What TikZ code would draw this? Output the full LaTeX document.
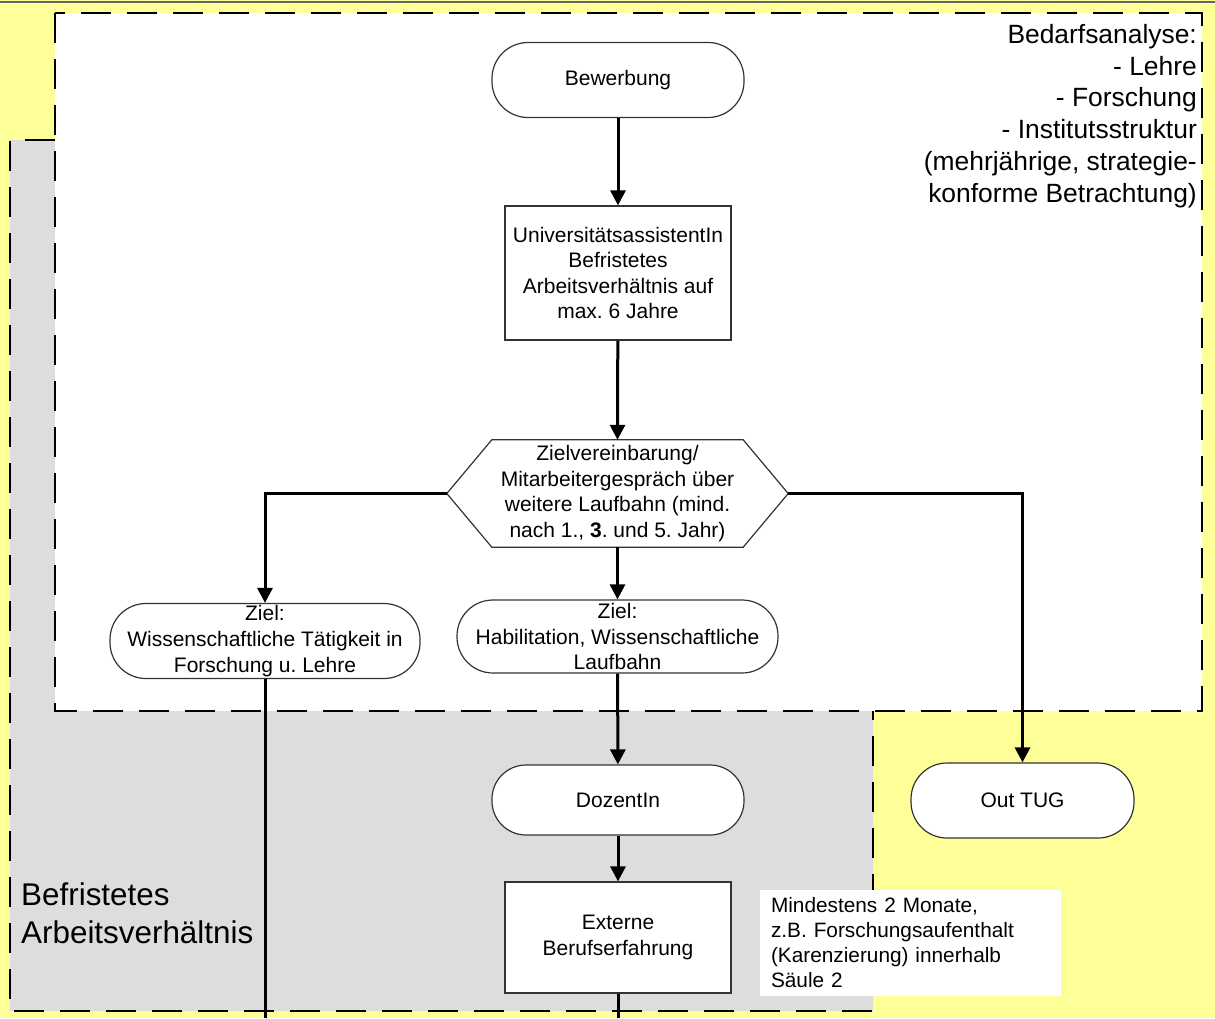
\documentclass[tikz,border=0pt]{standalone}
\usepackage{fontspec}
\setmainfont{Liberation Sans}
\usetikzlibrary{arrows.meta}
\definecolor{bgyellow}{HTML}{FFFF99}
\definecolor{zonegray}{HTML}{DDDDDD}
\definecolor{edge}{HTML}{333333}
\frenchspacing
\begin{document}
\frenchspacing
\begin{tikzpicture}[x=1pt,y=-1pt,
  zone/.style={line width=2.6pt, dash pattern=on 30pt off 16pt},
  basefont/.style={font=\fontsize{21}{25.6}\selectfont},
  stadium/.style={basefont, draw=edge, line width=1.2pt, fill=white, rounded corners=36pt, align=center, inner sep=0pt, minimum height=#1},
  stadium/.default=75pt,
  boxnode/.style={basefont, draw=edge, line width=1.2pt, fill=white, align=center, inner sep=0pt},
  conn/.style={line width=3pt, -{Triangle[width=15pt,length=15pt]}},
  plain/.style={line width=3pt}
]
\useasboundingbox (0,0) rectangle (1215,1018);
% background
\fill[bgyellow] (0,0) rectangle (1215,1018);
\draw[black!60, line width=2pt] (0,1.5) -- (1215,1.5);
% gray zone
\fill[zonegray] (10,140) -- (55,140) -- (55,711) -- (873,711) -- (873,1011) -- (10,1011) -- cycle;
\draw[zone] (55,140) -- (10,140) -- (10,1011) -- (873,1011) -- (873,711);
% white zone
\fill[white] (55,13) rectangle (1202,711);
\draw[zone] (55,13) rectangle (1202,711);

% zone labels
\node[anchor=north east, inner sep=0pt, align=right, font=\fontsize{26.4}{31.8}\selectfont] (bedarf) at (1197,24)
  {Bedarfsanalyse:\\- Lehre\\- Forschung\\- Institutsstruktur\\(mehrjährige, strategie-\\konforme Betrachtung)};
\node[anchor=north west, inner sep=0pt, align=left, font=\fontsize{31.4}{37.7}\selectfont] (befr) at (21,883)
  {Befristetes\\Arbeitsverhältnis};

% nodes
\node[stadium, minimum width=252pt] (bew) at (618,80) {Bewerbung};
\node[boxnode, minimum width=226pt, minimum height=134pt] (ua) at (618,273)
  {UniversitätsassistentIn\\Befristetes\\Arbeitsverhältnis auf\\max. 6 Jahre};
\node[basefont, align=center, inner sep=0pt, minimum width=341pt, minimum height=107pt] (hex) at (617.5,493.5) {};
\draw[draw=edge, line width=1.2pt, fill=white] (hex.west) -- ([xshift=45pt]hex.north west) -- ([xshift=-45pt]hex.north east)
  -- (hex.east) -- ([xshift=-45pt]hex.south east) -- ([xshift=45pt]hex.south west) -- cycle;
\node[basefont, align=center, inner sep=0pt] (hextext) at (hex.center)
  {Zielvereinbarung/\\Mitarbeitergespräch über\\weitere Laufbahn (mind.\\nach 1., \textbf{3}. und 5. Jahr)};
\node[stadium, minimum width=310pt] (z1) at (265,641)
  {Ziel:\\Wissenschaftliche Tätigkeit in\\Forschung u. Lehre};
\node[stadium=73pt, minimum width=321pt] (z2) at (617.5,636.5)
  {Ziel:\\Habilitation, Wissenschaftliche\\Laufbahn};
\node[stadium=70pt, minimum width=252pt, rounded corners=34pt] (doz) at (618,800) {DozentIn};
\node[boxnode, minimum width=226pt, minimum height=111pt] (ext) at (618,937.5)
  {Externe\\Berufserfahrung};
\node[stadium, minimum width=223pt] (out) at (1022.5,800.5) {Out TUG};
\node[fill=white, align=left, text width=279pt, inner xsep=11pt, inner ysep=0pt, minimum height=106pt, font=\fontsize{20.8}{25}\selectfont] (note) at (910.5,943)
  {Mindestens 2 Monate,\\z.B. Forschungsaufenthalt\\(Karenzierung) innerhalb\\Säule 2};

\coordinate (z1end) at (265,1018);
\coordinate (extend) at (618,1018);

% connectors
\draw[conn] (bew) -- (ua);
\draw[conn] (ua) -- (hex.north);
\draw[conn] (hex.south) -- (z2);
\draw[conn] (hex.west) -| (z1.north);
\draw[conn] (hex.east) -| (out.north);
\draw[conn] (z2) -- (doz);
\draw[conn] (doz) -- (ext);
\draw[plain] (z1.south) -- (z1end);
\draw[plain] (ext.south) -- (extend);
\end{tikzpicture}
\end{document}
